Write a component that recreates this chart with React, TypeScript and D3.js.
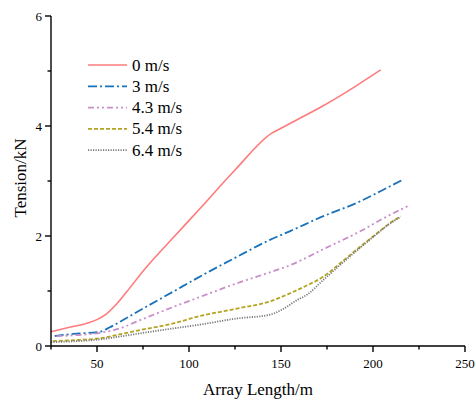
import React from "react";
import * as d3 from "d3";

const seriesNames = ["0 m/s", "3 m/s", "4.3 m/s", "5.4 m/s", "6.4 m/s"];

const x0 = [25, 35, 45, 50, 55, 60, 66, 76, 92, 106, 125, 145, 150, 158.5, 172, 185.7, 195, 204.2];
const y0 = [0.26, 0.34, 0.42, 0.48, 0.58, 0.74, 0.98, 1.4, 1.99, 2.5, 3.2, 3.87, 3.96, 4.11, 4.35, 4.62, 4.82, 5.02];

const x3 = [27, 37, 51.6, 57, 62.5, 73.4, 91.5, 104.2, 126, 144, 155, 173, 191, 209, 216];
const y3 = [0.18, 0.22, 0.26, 0.34, 0.44, 0.65, 0.99, 1.23, 1.62, 1.93, 2.09, 2.36, 2.6, 2.9, 3.02];

const x43 = [28, 40, 51.6, 62.5, 73.4, 91.5, 104.2, 126, 144, 155, 173, 191, 209, 220];
const y43 = [0.18, 0.2, 0.24, 0.32, 0.47, 0.71, 0.87, 1.14, 1.34, 1.47, 1.76, 2.05, 2.38, 2.56];

const x54 = [26, 40, 51.6, 62, 73.4, 91.5, 104.2, 126, 144, 155, 164, 173, 182, 191, 200, 209, 215];
const y54 = [0.09, 0.11, 0.14, 0.21, 0.29, 0.41, 0.53, 0.68, 0.81, 0.96, 1.1, 1.26, 1.5, 1.75, 1.99, 2.23, 2.36];

const x64 = [25, 40, 51.6, 62, 73.4, 91.5, 104.2, 126, 144, 151, 159, 164, 173, 182, 191, 200, 209, 215];
const y64 = [0.07, 0.09, 0.12, 0.17, 0.23, 0.32, 0.38, 0.5, 0.57, 0.67, 0.84, 0.93, 1.2, 1.47, 1.73, 1.98, 2.22, 2.35];

const xMajorTicks = [50, 100, 150, 200, 250];
const xMinorTicks = [25, 75, 125, 175, 225];
const yMajorTicks = [0, 2, 4, 6];
const yMinorTicks = [1, 3, 5];

const colors = ["#ff7b7b", "#1a72bb", "#c88fc8", "#b5a421", "#7a7a7a"];
const dashes = ["", "9,3,2,3", "6,3,2,3,2,3", "4,2", "1.2,1.3"];

export default function App() {
  const W = 476, H = 405;
  const x = d3.scaleLinear().domain([25, 250]).range([51, 465]);
  const y = d3.scaleLinear().domain([0, 6]).range([346, 16]);
  const series = [
    [x0, y0], [x3, y3], [x43, y43], [x54, y54], [x64, y64],
  ];
  const line = d3.line<[number, number]>()
    .x((d) => x(d[0]))
    .y((d) => y(d[1]))
    .curve(d3.curveMonotoneX);
  const font = '"Liberation Serif", "DejaVu Serif", "Times New Roman", serif';

  return (
    <svg width={W} height={H} style={{ position: "absolute", left: 0, top: 0, fontFamily: font }}>
      <rect width={W} height={H} fill="#fff" />
      {series.map(([xs, ys], i) => (
        <path
          key={i}
          d={line(xs.map((v, j) => [v, ys[j]] as [number, number])) || ""}
          fill="none"
          stroke={colors[i]}
          strokeWidth={i === 0 ? 1.6 : 1.8}
          strokeDasharray={dashes[i] || undefined}
        />
      ))}
      <line x1={x(25)} x2={x(250)} y1={y(0)} y2={y(0)} stroke="#000" strokeWidth={1.4} />
      <line x1={x(25)} x2={x(25)} y1={y(0)} y2={y(6)} stroke="#000" strokeWidth={1.4} />
      {xMajorTicks.map((t) => (
        <g key={"xm" + t}>
          <line x1={x(t)} x2={x(t)} y1={y(0)} y2={y(0) + 6} stroke="#000" strokeWidth={1.4} />
          <text x={x(t)} y={368} textAnchor="middle" fontSize={13} fontFamily={font}>{t}</text>
        </g>
      ))}
      {xMinorTicks.map((t) => (
        <line key={"xn" + t} x1={x(t)} x2={x(t)} y1={y(0)} y2={y(0) + 3.5} stroke="#000" strokeWidth={1.4} />
      ))}
      {yMajorTicks.map((t) => (
        <g key={"ym" + t}>
          <line x1={x(25) - 6} x2={x(25)} y1={y(t)} y2={y(t)} stroke="#000" strokeWidth={1.4} />
          <text x={42} y={y(t) + 4.5} textAnchor="end" fontSize={13} fontFamily={font}>{t}</text>
        </g>
      ))}
      {yMinorTicks.map((t) => (
        <line key={"yn" + t} x1={x(25) - 3.5} x2={x(25)} y1={y(t)} y2={y(t)} stroke="#000" strokeWidth={1.4} />
      ))}
      <text x={258} y={395} textAnchor="middle" fontSize={17} fontFamily={font}>Array Length/m</text>
      <text transform="translate(26,178) rotate(-90)" textAnchor="middle" fontSize={17} fontFamily={font}>Tension/kN</text>
      {seriesNames.map((name, i) => {
        const ly = 65 + i * 21.3;
        return (
          <g key={name}>
            <line x1={88} x2={127} y1={ly} y2={ly} stroke={colors[i]} strokeWidth={i === 0 ? 1.6 : 1.8}
              strokeDasharray={dashes[i] || undefined} />
            <text x={132} y={ly + 5.5} fontSize={17} fontFamily={font}>{name}</text>
          </g>
        );
      })}
    </svg>
  );
}
